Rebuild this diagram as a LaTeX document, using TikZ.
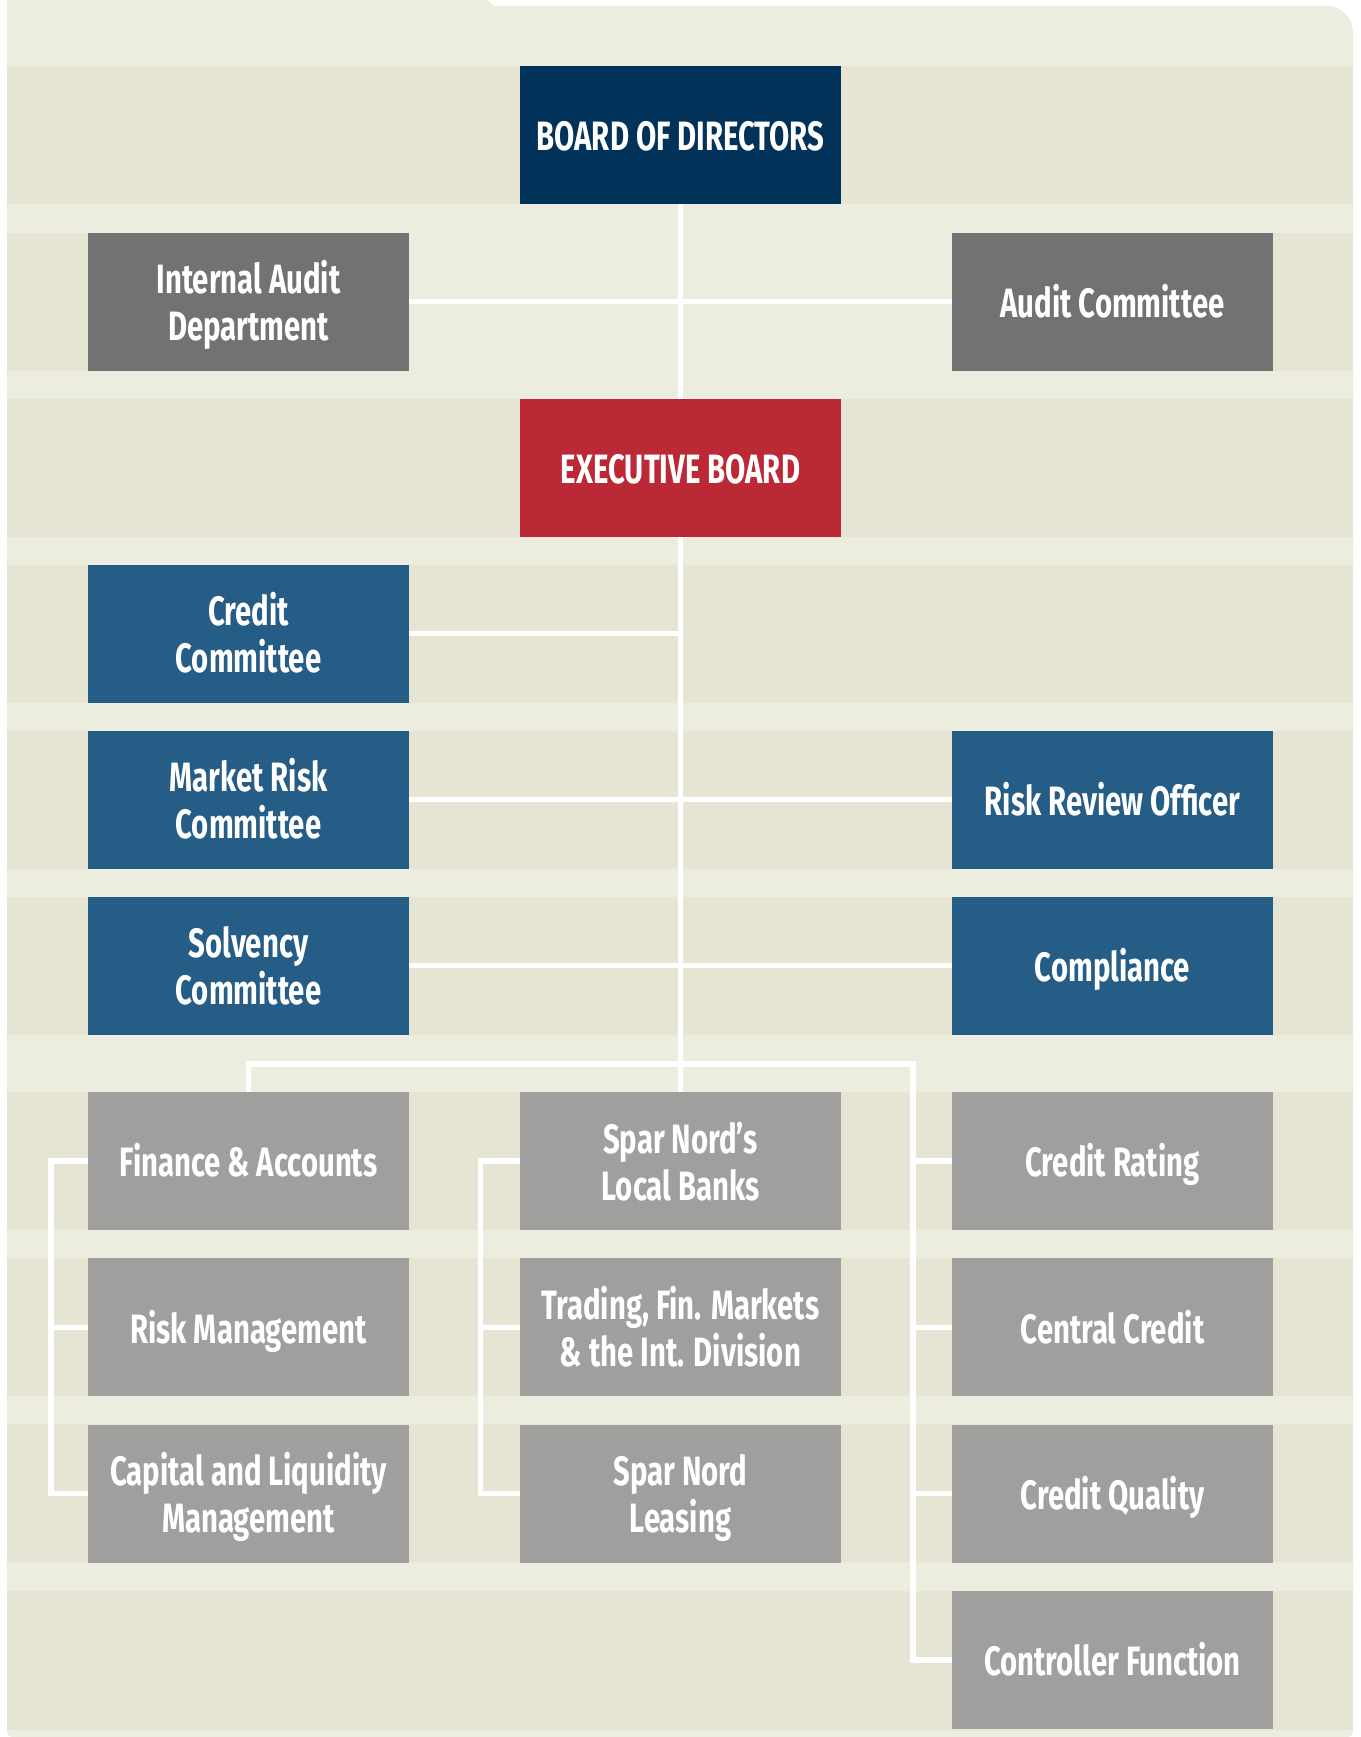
\documentclass[tikz,border=0pt]{standalone}
\usepackage{fontspec}
\setmainfont{Fira Sans}[FakeStretch=0.715]
\usetikzlibrary{
  positioning,
  backgrounds,
}
\definecolor{bgLight}{HTML}{ECECDF}
\definecolor{bgBand}{HTML}{E6E5D3}
\definecolor{fillBoard}{HTML}{00325A}
\definecolor{fillExec}{HTML}{BB2936}
\definecolor{fillAudit}{HTML}{717271}
\definecolor{fillRisk}{HTML}{255D87}
\definecolor{fillUnit}{HTML}{A09F9D}
\tikzset{
  unitbox/.style={
    rectangle, fill=fillUnit, text=white,
    minimum width=160.5pt, minimum height=69pt, text width=155pt, align=flush center,
    font=\fontsize{20.5}{23.65}\selectfont\bfseries, inner sep=0pt, outer sep=0pt,
    execute at begin node={\noindent\rule{0pt}{22pt}},
    execute at end node={\rule[-6.3pt]{0pt}{6.3pt}},
  },
  boardbox/.style={unitbox, fill=fillBoard},
  execbox/.style={unitbox, fill=fillExec},
  auditbox/.style={unitbox, fill=fillAudit},
  riskbox/.style={unitbox, fill=fillRisk},
  wire/.style={white, line width=2.75pt, line join=miter},
  band/.style={fill=bgBand},
}

\begin{document}
\begin{tikzpicture}[x=0.5pt, y=-0.5pt, node distance=14.15pt]

  \useasboundingbox (0,0) rectangle (1361,1737);

  % Governance
  \node[boardbox] (board) at (680.5,135) {BOARD OF DIRECTORS};
  \node[auditbox] (intaudit) at (248.5,301.5) {Internal Audit\\Department};
  \node[auditbox] (auditcom) at (1112.5,301.5) {Audit Committee};
  \node[execbox] (exec) at (680.5,467.5) {EXECUTIVE BOARD};

  % Committees
  \node[riskbox] (creditcom) at (248.5,633.5) {Credit\\Committee};
  \node[riskbox] (marketcom) at (248.5,799.5) {Market Risk\\Committee};
  \node[riskbox] (reviewer) at (1112.5,799.5) {Risk Review Officer};
  \node[riskbox] (solvcom) at (248.5,965.5) {Solvency\\Committee};
  \node[riskbox] (compliance) at (1112.5,965.5) {Compliance};

  % Units
  \node[unitbox] (finance) at (248.5,1161) {Finance \& Accounts};
  \node[unitbox, below=of finance] (riskmgmt) {Risk Management};
  \node[unitbox, below=of riskmgmt] (capital) {Capital and Liquidity\\Management};
  \node[unitbox] (spar) at (680.5,1161) {Spar Nord’s\\Local Banks};
  \node[unitbox, below=of spar] (trading) {Trading, Fin. Markets\\\& the Int. Division};
  \node[unitbox, below=of trading] (leasing) {Spar Nord\\Leasing};
  \node[unitbox] (rating) at (1112.5,1161) {Credit Rating};
  \node[unitbox, below=of rating] (central) {Central Credit};
  \node[unitbox, below=of central] (quality) {Credit Quality};
  \node[unitbox, below=of quality] (controller) {Controller Function};

  \begin{scope}[on background layer]
    % Backdrop and bands
    \fill[bgLight] (7,-10) -- (487,-10) [rounded corners=5] -- (487,6)
      [rounded corners=13] -- (1353,6) [rounded corners=3] -- (1353,1737) -- (7,1737) -- cycle;
    \foreach \y in {135, 467.5, 633.5, 799.5, 965.5, 1161, 1327, 1493}
      \fill[band] (7,\y-69) rectangle (1353,\y+69);
    \fill[band] (7,232.5) rectangle (88,370.5);
    \fill[band] (1273,232.5) rectangle (1353,370.5);
    \fill[band] (7,1591) rectangle (1353,1730);

    % Connectors
    \draw[wire] (board.south) -- (spar.north);
    \draw[wire] (intaudit.east) -- (auditcom.west);
    \draw[wire] (creditcom.east) -- (creditcom.east -| board.south);
    \draw[wire] (marketcom.east) -- (reviewer.west);
    \draw[wire] (solvcom.east) -- (compliance.west);

    \coordinate (busR) at (913,1064);
    \draw[wire] (finance.north) |- (busR) |- (controller.west);
    \foreach \n in {rating, central, quality}
      \draw[wire] (busR |- \n.west) -- (\n.west);

    \coordinate (busL) at (51,1161);
    \draw[wire] (finance.west) -- (busL) |- (capital.west);
    \draw[wire] (busL |- riskmgmt.west) -- (riskmgmt.west);

    \coordinate (busC) at (480.5,1161);
    \draw[wire] (spar.west) -- (busC) |- (leasing.west);
    \draw[wire] (busC |- trading.west) -- (trading.west);
  \end{scope}

\end{tikzpicture}
\end{document}
